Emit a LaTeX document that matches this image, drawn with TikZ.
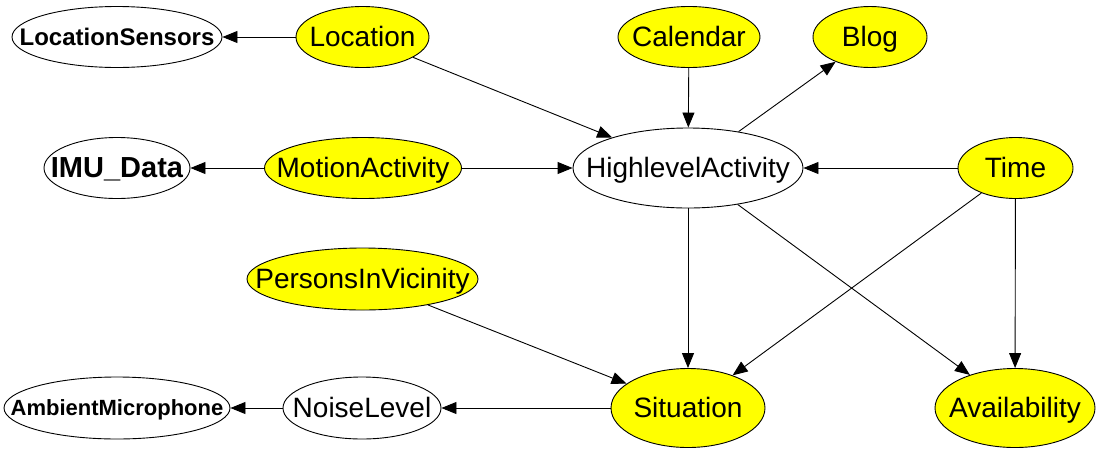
\documentclass[tikz,border=0pt]{standalone}
\usepackage{fontspec}
\setmainfont{Liberation Sans}
\usetikzlibrary{shapes.geometric,arrows.meta}
\definecolor{nodeyellow}{HTML}{FFFF00}
% label of zero width and cap height, so that the ellipse takes its size
% from minimum width/height and the capitals sit on its centre
\newcommand{\lbl}[1]{\makebox[0pt]{\smash{#1}\vphantom{L}}}
\tikzset{
  var/.style={ellipse, draw=black, line width=0.9pt, inner sep=0pt,
    minimum height=61pt, font=\fontsize{28}{28}\selectfont},
  obs/.style={var, fill=nodeyellow},
  sensor/.style={var, fill=white},
  link/.style={line width=0.9pt, -{Triangle[length=15pt,width=12pt]}},
}
\begin{document}
\begin{tikzpicture}[x=1pt,y=-1pt]
  \useasboundingbox (0,0) rectangle (1098,448);
  % top row
  \node[sensor, minimum width=210pt,
        font=\fontsize{24}{24}\selectfont\bfseries] (ls) at (117,37) {\lbl{LocationSensors}};
  \node[obs, minimum width=133pt] (loc) at (362.5,37) {\lbl{Location}};
  \node[obs, minimum width=142pt] (cal) at (689,37) {\lbl{Calendar}};
  \node[obs, minimum width=114pt] (blog) at (870,37) {\lbl{Blog}};
  % middle row
  \node[sensor, minimum width=146pt,
        font=\fontsize{29}{29}\selectfont\bfseries] (imu) at (117,168) {\lbl{IMU\_Data}};
  \node[obs, minimum width=197pt] (mot) at (363,168) {\lbl{MotionActivity}};
  \node[sensor, minimum width=230pt, minimum height=80pt] (hla) at (688,168) {\lbl{HighlevelActivity}};
  \node[obs, minimum width=115pt] (time) at (1015.5,168) {\lbl{Time}};
  \node[obs, minimum width=231pt, minimum height=62pt] (piv) at (362.5,279) {\lbl{PersonsInVicinity}};
  % bottom row
  \node[sensor, minimum width=226pt, minimum height=62pt,
        font=\fontsize{22}{22}\selectfont\bfseries] (amb) at (117,408) {\lbl{AmbientMicrophone}};
  \node[sensor, minimum width=158pt, minimum height=62pt] (noise) at (362,408) {\lbl{NoiseLevel}};
  \node[obs, minimum width=154pt, minimum height=79pt] (sit) at (688,408) {\lbl{Situation}};
  \node[obs, minimum width=160pt, minimum height=79pt] (avail) at (1015,408) {\lbl{Availability}};
  % dependencies
  \draw[link] (loc) -- (ls);
  \draw[link] (loc) -- (hla);
  \draw[link] (cal) -- (hla);
  \draw[link] (hla) -- (blog);
  \draw[link] (mot) -- (imu);
  \draw[link] (mot) -- (hla);
  \draw[link] (time) -- (hla);
  \draw[link] (hla) -- (sit);
  \draw[link] (hla) -- (avail);
  \draw[link] (time) -- (sit);
  \draw[link] (time) -- (avail);
  \draw[link] (piv) -- (sit);
  \draw[link] (sit) -- (noise);
  \draw[link] (noise) -- (amb);
\end{tikzpicture}
\end{document}
